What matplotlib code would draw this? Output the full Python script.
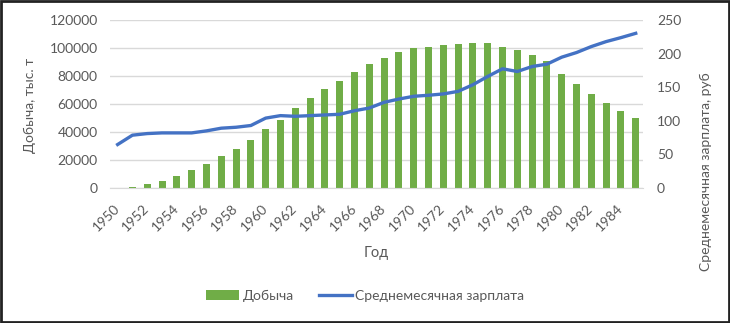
import matplotlib
matplotlib.use("Agg")
import matplotlib.pyplot as plt
from matplotlib.patches import Rectangle
import numpy as np

years = list(range(1950, 1986))
production = [300, 600, 2600, 5000, 8500, 12600, 17300, 23200, 28200, 34600,
              42500, 48900, 57200, 64000, 70500, 76400, 82800, 88700, 93200, 96800,
              99900, 101000, 101800, 103000, 103500, 103500, 101000, 98700, 95100, 90900,
              81600, 74500, 67400, 60500, 54800, 50000]
salary = [64.7, 78.6, 81, 82, 82, 82, 85, 89, 90.4, 93,
          104, 107.7, 106.7, 107.7, 108.7, 109.7, 115, 119, 127.5, 132.4,
          136.5, 138, 140, 143.8, 153.7, 166, 177.4, 173.4, 180.8, 184.3,
          194.7, 201.6, 210.5, 217.9, 223.8, 230.2]
tick_years = [str(y) for y in years[::2]]

plt.rcParams['font.family'] = ['Lato', 'DejaVu Sans']
txt = '#595959'

fig = plt.figure(figsize=(7.3, 3.23), dpi=100)
ax = fig.add_axes([0.151, 0.418, 0.730, 0.520])
x = np.arange(len(years))
bars = ax.bar(x, production, width=0.47, color='#70ad47', label='Добыча', zorder=2)
ax.set_ylim(0, 120000)
ax.set_yticks(range(0, 120001, 20000))
ax.set_xlim(-0.5, len(years) - 0.5)
ax.grid(axis='y', color='#d9d9d9', linewidth=1, zorder=0)
ax.set_axisbelow(True)
for s in ['top', 'right', 'left']:
    ax.spines[s].set_visible(False)
ax.spines['bottom'].set_color('#d9d9d9')
ax.tick_params(axis='both', length=0, colors=txt, labelsize=10)
ax.tick_params(axis='y', pad=9)
ax.set_xticks(x[::2])
ax.set_xticklabels(tick_years, rotation=45, ha='right', va='center', rotation_mode='anchor')
ax.tick_params(axis='x', pad=13)
ax.set_xlabel('Год', color=txt, fontsize=10.5, labelpad=9)

ax2 = ax.twinx()
line, = ax2.plot(x, salary, color='#4472c4', linewidth=2.4, label='Среднемесячная зарплата', zorder=3)
ax2.set_ylim(0, 250)
ax2.set_yticks(range(0, 251, 50))
for s in ['top', 'right', 'left', 'bottom']:
    ax2.spines[s].set_visible(False)
ax2.tick_params(axis='y', length=0, colors=txt, labelsize=10, pad=10)

fig.text(30 / 730, 1 - 105 / 323, 'Добыча, тыс. т', rotation=90, ha='center', va='center',
         color=txt, fontsize=10)
fig.text(706 / 730, 1 - 172 / 323, 'Среднемесячная зарплата, руб', rotation=90,
         ha='center', va='center', color=txt, fontsize=10)

fig.legend([bars, line], ['Добыча', 'Среднемесячная зарплата'], loc='center',
           bbox_to_anchor=(0.5, 0.085), ncol=2, frameon=False, fontsize=10,
           labelcolor=txt, handlelength=2.4, columnspacing=1.8, handletextpad=0.25)

fig.patches.append(Rectangle((0.002, 0.003), 0.996, 0.994, transform=fig.transFigure,
                             fill=False, edgecolor='#222222', linewidth=2))
fig.savefig('out.png', dpi=100)
